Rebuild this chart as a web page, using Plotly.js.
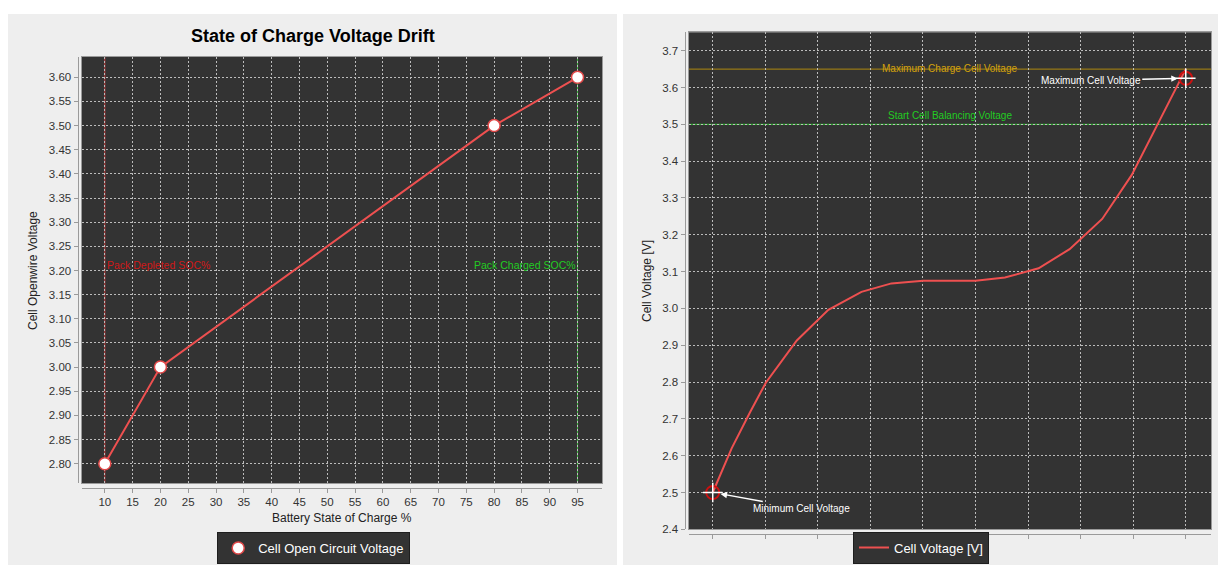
<!DOCTYPE html>
<html>
<head>
<meta charset="utf-8">
<script src="https://cdn.plot.ly/plotly-3.0.1.min.js"></script>
<style>
  html, body { margin: 0; padding: 0; background: #eeeeee; overflow: hidden; width: 1218px; height: 565px; }
  #chart { width: 1218px; height: 565px; }
</style>
</head>
<body>
<div id="chart"></div>
<script>
// ---------------- data ----------------
// Left chart: State of Charge Voltage Drift
const socPercent = [10, 20, 80, 95];
const openCircuitVoltage = [2.80, 3.00, 3.50, 3.60];
const packDepletedSoc = 10;
const packChargedSoc = 95;
const leftXTicks = [10, 15, 20, 25, 30, 35, 40, 45, 50, 55, 60, 65, 70, 75, 80, 85, 90, 95];

// Right chart: cell voltage curve (x axis has unlabeled ticks 0..9)
const cellStep = [0, 0.36, 0.71, 1.01, 1.60, 2.20, 2.83, 3.40, 4.00, 5.00, 5.56, 6.20, 6.79, 7.41, 7.97, 8.47, 9.00];
const cellVoltage = [2.50, 2.62, 2.718, 2.798, 2.913, 2.996, 3.045, 3.068, 3.075, 3.075, 3.084, 3.109, 3.161, 3.243, 3.362, 3.50, 3.65];
const maxChargeCellVoltage = 3.65;
const startBalancingVoltage = 3.50;
const minCellPoint = [0, 2.50];
const maxCellPoint = [9, 3.625];

// ---------------- helpers (pixel -> paper) ----------------
const W = 1218, H = 565;
const px = v => v / W;
const py = v => 1 - v / H;
const FONT = 'Liberation Sans, Arial, sans-serif';

const gridStyle = {
  showgrid: true, gridcolor: '#bcbcbc', gridwidth: 1, griddash: '2px,2px',
  showticklabels: false, ticks: '', zeroline: false,
  showline: true, mirror: true, linecolor: '#9a9a9a', linewidth: 1, fixedrange: true
};
const axisStyle = {
  showgrid: false, zeroline: false, showline: true, linecolor: '#9a9a9a', linewidth: 1,
  ticks: 'outside', ticklen: 4, tickcolor: '#9a9a9a', tickwidth: 1,
  tickfont: { family: FONT, size: 11.5, color: '#333333' }, fixedrange: true
};

const leftXRange = [5.9, 99.4];
const leftYRange = [2.76, 3.642];
const rightXRange = [-0.457, 9.48];
const rightYRange = [2.4, 3.75];

const traces = [
  // left chart
  { x: socPercent, y: openCircuitVoltage, xaxis: 'x', yaxis: 'y', mode: 'lines',
    line: { color: '#ee5050', width: 2 }, showlegend: false, hoverinfo: 'skip' },
  { x: socPercent, y: openCircuitVoltage, xaxis: 'x', yaxis: 'y', mode: 'markers',
    name: 'Cell Open Circuit Voltage', legend: 'legend',
    marker: { size: 12, color: '#ffffff', line: { color: '#e04848', width: 1.5 } } },
  // right chart
  { x: cellStep, y: cellVoltage, xaxis: 'x2', yaxis: 'y2', mode: 'lines',
    name: 'Cell Voltage [V]', legend: 'legend2',
    line: { color: '#ee5050', width: 2 } },
  { x: [minCellPoint[0], maxCellPoint[0]], y: [minCellPoint[1], maxCellPoint[1]],
    xaxis: 'x2', yaxis: 'y2', mode: 'markers', showlegend: false, hoverinfo: 'skip',
    marker: { symbol: 'circle-open', size: 13, color: '#cc1010', line: { width: 2, color: '#cc1010' } } },
  { x: [minCellPoint[0], maxCellPoint[0]], y: [minCellPoint[1], maxCellPoint[1]],
    xaxis: 'x2', yaxis: 'y2', mode: 'markers', showlegend: false, hoverinfo: 'skip',
    marker: { symbol: 'cross-thin-open', size: 14, color: '#ffffff', line: { width: 1.5, color: '#ffffff' } } },
  // carriers for the offset axes
  { x: [null], y: [null], xaxis: 'x3', yaxis: 'y', mode: 'markers', showlegend: false, hoverinfo: 'skip' },
  { x: [null], y: [null], xaxis: 'x', yaxis: 'y3', mode: 'markers', showlegend: false, hoverinfo: 'skip' },
  { x: [null], y: [null], xaxis: 'x4', yaxis: 'y2', mode: 'markers', showlegend: false, hoverinfo: 'skip' },
  { x: [null], y: [null], xaxis: 'x2', yaxis: 'y4', mode: 'markers', showlegend: false, hoverinfo: 'skip' }
];

const layout = {
  width: W, height: H, autosize: false,
  margin: { l: 0, r: 0, t: 0, b: 0, pad: 0 },
  paper_bgcolor: '#eeeeee',
  plot_bgcolor: '#333333',
  font: { family: FONT, color: '#222222' },
  hovermode: false,
  // left plot (grid + frame)
  xaxis: Object.assign({}, gridStyle, { domain: [px(82), px(602)], range: leftXRange, anchor: 'y',
    tickmode: 'array', tickvals: leftXTicks }),
  yaxis: Object.assign({}, gridStyle, { domain: [py(483), py(57)], range: leftYRange, anchor: 'x',
    tick0: 2.8, dtick: 0.05 }),
  // left offset axes
  xaxis3: Object.assign({}, axisStyle, { overlaying: 'x', anchor: 'free', position: py(487.5),
    range: leftXRange, tickmode: 'array', tickvals: leftXTicks, ticktext: leftXTicks.map(String) }),
  yaxis3: Object.assign({}, axisStyle, { overlaying: 'y', anchor: 'free', position: px(77.5), side: 'left',
    range: leftYRange, tick0: 2.8, dtick: 0.05, tickformat: '.2f' }),
  // right plot (grid + frame)
  xaxis2: Object.assign({}, gridStyle, { domain: [px(688.7), px(1211)], range: rightXRange, anchor: 'y2',
    tick0: 0, dtick: 1 }),
  yaxis2: Object.assign({}, gridStyle, { domain: [py(529.3), py(32.3)], range: rightYRange, anchor: 'x2',
    tick0: 2.4, dtick: 0.1 }),
  // right offset axes
  xaxis4: Object.assign({}, axisStyle, { overlaying: 'x2', anchor: 'free', position: py(534.3),
    range: rightXRange, tick0: 0, dtick: 1, showticklabels: false }),
  yaxis4: Object.assign({}, axisStyle, { overlaying: 'y2', anchor: 'free', position: px(684.5), side: 'left',
    range: rightYRange, tick0: 2.4, dtick: 0.1, tickformat: '.1f' }),
  legend: {
    x: px(313.7), xanchor: 'center', y: py(548), yanchor: 'middle',
    bgcolor: '#333333', bordercolor: '#1e1e1e', borderwidth: 1, tracegroupgap: 0,
    font: { family: FONT, size: 13, color: '#ffffff' }, itemclick: false, itemdoubleclick: false
  },
  legend2: {
    x: px(921), xanchor: 'center', y: py(563.5), yanchor: 'bottom',
    bgcolor: '#333333', bordercolor: '#1e1e1e', borderwidth: 1, tracegroupgap: 0,
    font: { family: FONT, size: 13, color: '#ffffff' }, itemclick: false, itemdoubleclick: false
  },
  shapes: [
    // white page strips around the two grey panels
    { type: 'rect', xref: 'paper', yref: 'paper', x0: 0, x1: 1, y0: py(14), y1: 1,
      fillcolor: '#ffffff', line: { width: 0 }, layer: 'below' },
    { type: 'rect', xref: 'paper', yref: 'paper', x0: 0, x1: px(8), y0: 0, y1: 1,
      fillcolor: '#ffffff', line: { width: 0 }, layer: 'below' },
    { type: 'rect', xref: 'paper', yref: 'paper', x0: px(617), x1: px(623), y0: 0, y1: 1,
      fillcolor: '#ffffff', line: { width: 0 }, layer: 'below' },
    // left chart SOC markers
    { type: 'line', xref: 'x', yref: 'y domain', x0: packDepletedSoc, x1: packDepletedSoc, y0: 0, y1: 1,
      line: { color: '#c83c3c', width: 1 }, layer: 'below' },
    { type: 'line', xref: 'x', yref: 'y domain', x0: packChargedSoc, x1: packChargedSoc, y0: 0, y1: 1,
      line: { color: '#3cb43c', width: 1 }, layer: 'below' },
    // right chart voltage levels
    { type: 'line', xref: 'x2 domain', yref: 'y2', x0: 0, x1: 1, y0: maxChargeCellVoltage, y1: maxChargeCellVoltage,
      line: { color: '#b08a10', width: 1 }, layer: 'below' },
    { type: 'line', xref: 'x2 domain', yref: 'y2', x0: 0, x1: 1, y0: startBalancingVoltage, y1: startBalancingVoltage,
      line: { color: '#2ec82e', width: 1 }, layer: 'below' }
  ],
  annotations: [
    { text: '<b>State of Charge Voltage Drift</b>', xref: 'paper', yref: 'paper',
      x: px(313), y: py(36), xanchor: 'center', yanchor: 'middle', showarrow: false,
      font: { family: FONT, size: 18, color: '#000000' } },
    { text: 'Cell Openwire Voltage', xref: 'paper', yref: 'paper', textangle: -90,
      x: px(33), y: py(271), xanchor: 'center', yanchor: 'middle', showarrow: false,
      font: { family: FONT, size: 12, color: '#222222' } },
    { text: 'Battery State of Charge %', xref: 'paper', yref: 'paper',
      x: px(342), y: py(518), xanchor: 'center', yanchor: 'middle', showarrow: false,
      font: { family: FONT, size: 12, color: '#222222' } },
    { text: 'Cell Voltage [V]', xref: 'paper', yref: 'paper', textangle: -90,
      x: px(647), y: py(281), xanchor: 'center', yanchor: 'middle', showarrow: false,
      font: { family: FONT, size: 12, color: '#222222' } },
    { text: 'Pack Depleted SOC%', xref: 'x', yref: 'y', x: packDepletedSoc, y: 3.212,
      xanchor: 'left', yanchor: 'middle', showarrow: false,
      font: { family: FONT, size: 10.5, color: '#d01818' } },
    { text: 'Pack Charged SOC%', xref: 'x', yref: 'y', x: packChargedSoc, y: 3.212,
      xanchor: 'right', yanchor: 'middle', showarrow: false,
      font: { family: FONT, size: 10.5, color: '#22cc22' } },
    { text: 'Maximum Charge Cell Voltage', xref: 'x2 domain', yref: 'y2', x: 0.5, y: maxChargeCellVoltage,
      xanchor: 'center', yanchor: 'middle', yshift: 1, showarrow: false,
      font: { family: FONT, size: 10, color: '#d4a20c' } },
    { text: 'Start Cell Balancing Voltage', xref: 'x2 domain', yref: 'y2', x: 0.5, y: startBalancingVoltage,
      xanchor: 'center', yanchor: 'middle', yshift: 9, showarrow: false,
      font: { family: FONT, size: 10, color: '#22cc22' } },
    { text: 'Maximum Cell Voltage', xref: 'x2', yref: 'y2', x: maxCellPoint[0], y: maxCellPoint[1],
      showarrow: true, ax: -95, ay: 2, arrowcolor: '#ffffff', arrowhead: 2, arrowsize: 1, arrowwidth: 1.3,
      standoff: 8, font: { family: FONT, size: 10, color: '#ffffff' } },
    { text: 'Minimum Cell Voltage', xref: 'x2', yref: 'y2', x: minCellPoint[0], y: minCellPoint[1],
      showarrow: true, ax: 89, ay: 16, arrowcolor: '#ffffff', arrowhead: 2, arrowsize: 1, arrowwidth: 1.3,
      standoff: 8, font: { family: FONT, size: 10, color: '#ffffff' } }
  ]
};

Plotly.newPlot('chart', traces, layout, { staticPlot: true, displayModeBar: false });
</script>
</body>
</html>
